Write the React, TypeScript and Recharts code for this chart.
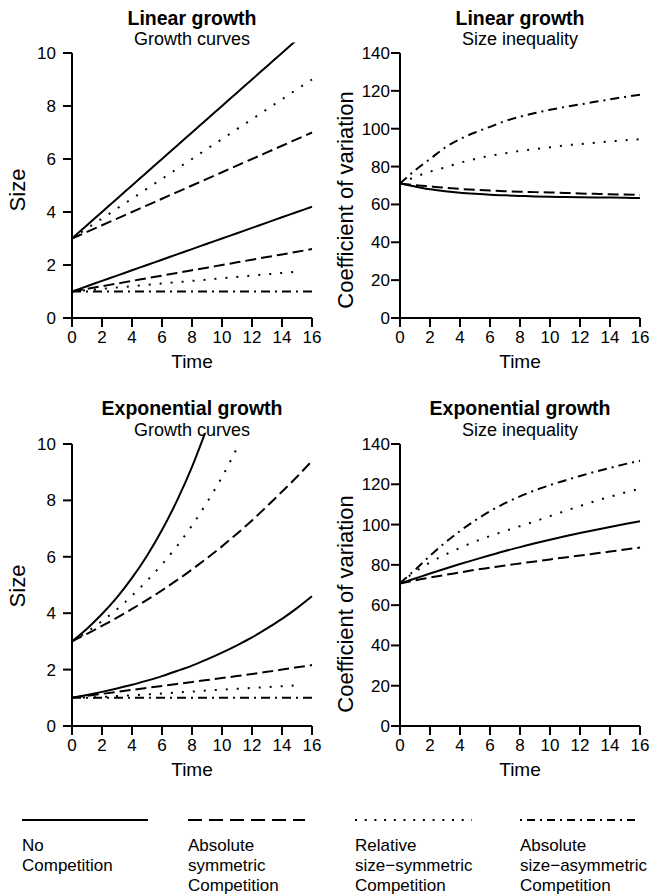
import React from 'react';
import { LineChart, Line, XAxis, YAxis, ReferenceLine } from 'recharts';

const FONT = "'Liberation Sans', Arial, Helvetica, sans-serif";

const TIME = [0, 1, 2, 3, 4, 5, 6, 7, 8, 9, 10, 11, 12, 13, 14, 15, 16];
const TIME_TICKS = [0, 2, 4, 6, 8, 10, 12, 14, 16];
const SIZE_TICKS = [0, 2, 4, 6, 8, 10];
const CV_TICKS = [0, 20, 40, 60, 80, 100, 120, 140];

// Linear growth – growth curves (large plant starts at 3, small at 1)
const LIN_NONE_LARGE = [3, 3.5, 4, 4.5, 5, 5.5, 6, 6.5, 7, 7.5, 8, 8.5, 9, 9.5, 10, 10.5, null];
const LIN_ABS_LARGE = [3, 3.25, 3.5, 3.75, 4, 4.25, 4.5, 4.75, 5, 5.25, 5.5, 5.75, 6, 6.25, 6.5, 6.75, 7];
const LIN_REL_LARGE = [3, 3.38, 3.75, 4.13, 4.5, 4.88, 5.25, 5.63, 6, 6.38, 6.75, 7.13, 7.5, 7.88, 8.25, 8.63, 9];
const LIN_NONE_SMALL = [1, 1.2, 1.4, 1.6, 1.8, 2, 2.2, 2.4, 2.6, 2.8, 3, 3.2, 3.4, 3.6, 3.8, 4, 4.2];
const LIN_ABS_SMALL = [1, 1.1, 1.2, 1.3, 1.4, 1.5, 1.6, 1.7, 1.8, 1.9, 2, 2.1, 2.2, 2.3, 2.4, 2.5, 2.6];
const LIN_REL_SMALL = [1, 1.05, 1.1, 1.15, 1.2, 1.25, 1.3, 1.35, 1.4, 1.45, 1.5, 1.55, 1.6, 1.65, 1.7, 1.75, null];
const LIN_ASYM_SMALL = [1, 1, 1, 1, 1, 1, 1, 1, 1, 1, 1, 1, 1, 1, 1, 1, 1];

// Linear growth – coefficient of variation
const LIN_CV_NONE = [71, 69.5, 68, 67, 66.2, 65.6, 65.1, 64.8, 64.5, 64.2, 64, 63.9, 63.8, 63.7, 63.6, 63.5, 63.4];
const LIN_CV_ABS = [71, 70.2, 69.5, 68.8, 68.2, 67.7, 67.3, 67, 66.7, 66.5, 66.3, 66.1, 65.8, 65.6, 65.4, 65.2, 65];
const LIN_CV_REL = [71, 74.5, 77.3, 79.5, 82, 84, 85.7, 87, 88.3, 89.2, 90.2, 91.2, 91.9, 92.6, 93.3, 93.9, 94.5];
const LIN_CV_ASYM = [71, 78, 84, 90, 94.5, 98, 101, 104, 106.3, 108.3, 110, 111.5, 112.8, 114.2, 115.5, 116.8, 118];

// Exponential growth – growth curves
const EXP_NONE_LARGE = [3, 3.45, 3.97, 4.56, 5.25, 6.04, 6.95, 7.99, 9.19, 10.57, null, null, null, null, null, null, null];
const EXP_ABS_LARGE = [3, 3.27, 3.55, 3.84, 4.15, 4.47, 4.81, 5.17, 5.55, 5.95, 6.37, 6.82, 7.29, 7.79, 8.31, 8.84, 9.4];
const EXP_REL_LARGE = [3, 3.34, 3.72, 4.14, 4.62, 5.15, 5.73, 6.38, 7.11, 7.93, 8.83, 9.85, null, null, null, null, null];
const EXP_NONE_SMALL = [1, 1.1, 1.21, 1.33, 1.46, 1.61, 1.77, 1.95, 2.14, 2.36, 2.6, 2.86, 3.14, 3.46, 3.8, 4.18, 4.6];
const EXP_ABS_SMALL = [1, 1.07, 1.14, 1.21, 1.28, 1.35, 1.42, 1.49, 1.56, 1.63, 1.7, 1.77, 1.84, 1.92, 2.0, 2.08, 2.16];
const EXP_REL_SMALL = [1, 1.01, 1.03, 1.06, 1.09, 1.12, 1.15, 1.19, 1.22, 1.26, 1.29, 1.32, 1.35, 1.38, 1.41, 1.44, null];
const EXP_ASYM_SMALL = [1, 1, 1, 1, 1, 1, 1, 1, 1, 1, 1, 1, 1, 1, 1, 1, 1];

// Exponential growth – coefficient of variation
const EXP_CV_NONE = [70.7, 73.2, 75.7, 78.1, 80.4, 82.6, 84.8, 86.9, 88.8, 90.7, 92.5, 94.2, 95.8, 97.3, 98.8, 100.3, 101.7];
const EXP_CV_ABS = [70.7, 72.3, 73.7, 75, 76.2, 77.5, 78.6, 79.7, 80.7, 81.7, 82.7, 83.7, 84.6, 85.6, 86.6, 87.6, 88.6];
const EXP_CV_REL = [71, 76.5, 81.2, 85, 88.4, 91.6, 94.3, 96.8, 99.2, 101.6, 104.2, 106.7, 109.2, 111.6, 113.8, 115.9, 117.8];
const EXP_CV_ASYM = [71, 77.5, 84.5, 91, 96.8, 102, 106.6, 110.6, 114, 117, 119.6, 121.9, 124.1, 126.2, 128.1, 130, 131.7];

type Kind = 'none' | 'abs' | 'rel' | 'asym';
const DASH: Record<Kind, string | undefined> = {
  none: undefined,
  abs: '11 5',
  rel: '2 9',
  asym: '9 5 2 5',
};
const LEGEND_DASH: Record<Kind, string | undefined> = {
  none: undefined,
  abs: '14 7',
  rel: '2 7.7',
  asym: '2 5 8 5',
};

type Series = { key: string; values: (number | null)[]; kind: Kind };

function buildRows(series: Series[]) {
  return TIME.map((t, i) => {
    const row: Record<string, number | null> = { t };
    series.forEach((s) => {
      row[s.key] = s.values[i];
    });
    return row;
  });
}

type PanelProps = {
  left: number;
  top: number;
  width: number;
  height: number;
  margin: { top: number; right: number; bottom: number; left: number };
  yAxisWidth: number;
  xAxisHeight: number;
  yDomain: [number, number];
  yTicks: number[];
  partialAxisTop?: number;
  yTickMargin: number;
  series: Series[];
  yLabel: string;
  yLabelDx: number;
  yLabelFromBottom: number;
};

const axisStroke = { stroke: '#000', strokeWidth: 2 };

function Panel(p: PanelProps) {
  const data = buildRows(p.series);
  return (
    <div style={{ position: 'absolute', left: p.left, top: p.top, width: p.width, height: p.height }}>
      <LineChart width={p.width} height={p.height} data={data} margin={p.margin}>
        <XAxis
          type="number"
          dataKey="t"
          domain={[0, 16]}
          ticks={TIME_TICKS}
          interval={0}
          height={p.xAxisHeight}
          axisLine={axisStroke}
          tickLine={axisStroke}
          tickSize={9}
          tickMargin={4}
          tick={{ fill: '#000', fontSize: 17, fontFamily: FONT }}
          label={(props: any) => {
            const vb = props.viewBox;
            return (
              <text
                x={vb.x + vb.width / 2}
                y={vb.y + 50}
                textAnchor="middle"
                fontSize={19}
                fontFamily={FONT}
                fill="#000"
              >
                Time
              </text>
            );
          }}
        />
        <YAxis
          type="number"
          domain={p.yDomain}
          allowDataOverflow
          ticks={p.yTicks}
          interval={0}
          width={p.yAxisWidth}
          axisLine={p.partialAxisTop !== undefined ? false : axisStroke}
          tickLine={axisStroke}
          tickSize={9}
          tickMargin={p.yTickMargin}
          tick={{ fill: '#000', fontSize: 17, fontFamily: FONT }}
          label={(props: any) => {
            const vb = props.viewBox;
            const x = vb.x + p.yLabelDx;
            const y = vb.y + vb.height - p.yLabelFromBottom;
            return (
              <text
                x={x}
                y={y}
                transform={`rotate(-90, ${x}, ${y})`}
                textAnchor="middle"
                fontSize={22}
                fontFamily={FONT}
                fill="#000"
              >
                {p.yLabel}
              </text>
            );
          }}
        />
        {p.partialAxisTop !== undefined && (
          <ReferenceLine
            segment={[
              { x: 0, y: 0 },
              { x: 0, y: p.partialAxisTop },
            ]}
            stroke="#000"
            strokeWidth={2}
          />
        )}
        {p.series.map((s) => (
          <Line
            key={s.key}
            type="monotone"
            dataKey={s.key}
            stroke="#000"
            strokeWidth={2}
            strokeDasharray={DASH[s.kind]}
            dot={false}
            activeDot={false}
            isAnimationActive={false}
          />
        ))}
      </LineChart>
    </div>
  );
}

const linSizeSeries: Series[] = [
  { key: 'noneL', values: LIN_NONE_LARGE, kind: 'none' },
  { key: 'absL', values: LIN_ABS_LARGE, kind: 'abs' },
  { key: 'relL', values: LIN_REL_LARGE, kind: 'rel' },
  { key: 'noneS', values: LIN_NONE_SMALL, kind: 'none' },
  { key: 'absS', values: LIN_ABS_SMALL, kind: 'abs' },
  { key: 'relS', values: LIN_REL_SMALL, kind: 'rel' },
  { key: 'asymS', values: LIN_ASYM_SMALL, kind: 'asym' },
];
const linCvSeries: Series[] = [
  { key: 'none', values: LIN_CV_NONE, kind: 'none' },
  { key: 'abs', values: LIN_CV_ABS, kind: 'abs' },
  { key: 'rel', values: LIN_CV_REL, kind: 'rel' },
  { key: 'asym', values: LIN_CV_ASYM, kind: 'asym' },
];
const expSizeSeries: Series[] = [
  { key: 'noneL', values: EXP_NONE_LARGE, kind: 'none' },
  { key: 'absL', values: EXP_ABS_LARGE, kind: 'abs' },
  { key: 'relL', values: EXP_REL_LARGE, kind: 'rel' },
  { key: 'noneS', values: EXP_NONE_SMALL, kind: 'none' },
  { key: 'absS', values: EXP_ABS_SMALL, kind: 'abs' },
  { key: 'relS', values: EXP_REL_SMALL, kind: 'rel' },
  { key: 'asymS', values: EXP_ASYM_SMALL, kind: 'asym' },
];
const expCvSeries: Series[] = [
  { key: 'none', values: EXP_CV_NONE, kind: 'none' },
  { key: 'abs', values: EXP_CV_ABS, kind: 'abs' },
  { key: 'rel', values: EXP_CV_REL, kind: 'rel' },
  { key: 'asym', values: EXP_CV_ASYM, kind: 'asym' },
];

const TITLES = [
  { x: 192, y: 25, bold: 'Linear growth', y2: 45, sub: 'Growth curves' },
  { x: 520, y: 25, bold: 'Linear growth', y2: 45, sub: 'Size inequality' },
  { x: 192, y: 415, bold: 'Exponential growth', y2: 436, sub: 'Growth curves' },
  { x: 520, y: 415, bold: 'Exponential growth', y2: 436, sub: 'Size inequality' },
];

const LEGEND_ITEMS: { kind: Kind; x1: number; x2: number; lines: string[] }[] = [
  { kind: 'none', x1: 22, x2: 148, lines: ['No', 'Competition'] },
  { kind: 'abs', x1: 188, x2: 305, lines: ['Absolute', 'symmetric', 'Competition'] },
  { kind: 'rel', x1: 355, x2: 472, lines: ['Relative', 'size\u2212symmetric', 'Competition'] },
  { kind: 'asym', x1: 520, x2: 640, lines: ['Absolute', 'size\u2212asymmetric', 'Competition'] },
];

export default function App() {
  return (
    <div style={{ position: 'absolute', left: 0, top: 0, width: 651, height: 896, background: '#fff', fontFamily: FONT }}>
      <Panel
        left={0}
        top={0}
        width={330}
        height={380}
        margin={{ top: 42.4, right: 18, bottom: 12, left: 10 }}
        yAxisWidth={62}
        xAxisHeight={50}
        yDomain={[0, 10.4]}
        yTicks={SIZE_TICKS}
        partialAxisTop={10}
        yTickMargin={7}
        series={linSizeSeries}
        yLabel="Size"
        yLabelDx={15}
        yLabelFromBottom={128}
      />
      <Panel
        left={320}
        top={0}
        width={331}
        height={380}
        margin={{ top: 53, right: 11, bottom: 12, left: 10 }}
        yAxisWidth={70}
        xAxisHeight={50}
        yDomain={[0, 140]}
        yTicks={CV_TICKS}
        yTickMargin={1}
        series={linCvSeries}
        yLabel="Coefficient of variation"
        yLabelDx={23}
        yLabelFromBottom={118}
      />
      <Panel
        left={0}
        top={390}
        width={330}
        height={400}
        margin={{ top: 42.7, right: 18, bottom: 12, left: 10 }}
        yAxisWidth={62}
        xAxisHeight={52}
        yDomain={[0, 10.4]}
        yTicks={SIZE_TICKS}
        partialAxisTop={10}
        yTickMargin={7}
        series={expSizeSeries}
        yLabel="Size"
        yLabelDx={15}
        yLabelFromBottom={140}
      />
      <Panel
        left={320}
        top={390}
        width={331}
        height={400}
        margin={{ top: 54, right: 11, bottom: 12, left: 10 }}
        yAxisWidth={70}
        xAxisHeight={52}
        yDomain={[0, 140]}
        yTicks={CV_TICKS}
        yTickMargin={1}
        series={expCvSeries}
        yLabel="Coefficient of variation"
        yLabelDx={23}
        yLabelFromBottom={122}
      />
      <svg
        width={651}
        height={896}
        style={{ position: 'absolute', left: 0, top: 0, pointerEvents: 'none' }}
      >
        {TITLES.map((t, i) => (
          <g key={i}>
            <text x={t.x} y={t.y} textAnchor="middle" fontSize={19.5} fontWeight="bold" fontFamily={FONT} fill="#000">
              {t.bold}
            </text>
            <text x={t.x} y={t.y2} textAnchor="middle" fontSize={18} fontFamily={FONT} fill="#000">
              {t.sub}
            </text>
          </g>
        ))}
        {LEGEND_ITEMS.map((it, i) => (
          <g key={i}>
            <line
              x1={it.x1}
              x2={it.x2}
              y1={820}
              y2={820}
              stroke="#000"
              strokeWidth={2}
              strokeDasharray={LEGEND_DASH[it.kind]}
            />
            {it.lines.map((ln, j) => (
              <text key={j} x={it.x1} y={851 + j * 20} fontSize={17} fontFamily={FONT} fill="#000">
                {ln}
              </text>
            ))}
          </g>
        ))}
      </svg>
    </div>
  );
}
